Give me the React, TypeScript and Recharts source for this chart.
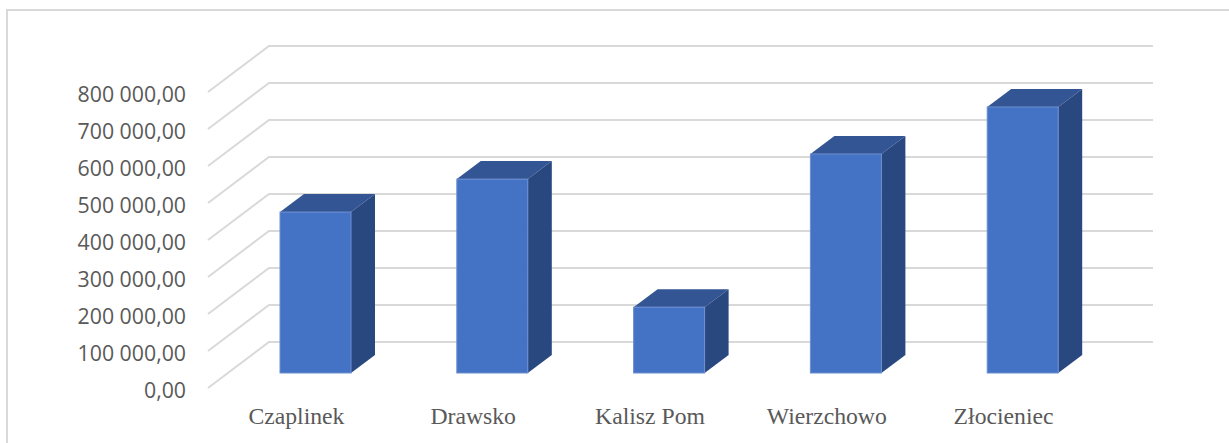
import React from "react";
import { BarChart, Bar, CartesianGrid, XAxis, YAxis } from "recharts";

const categories = ["Czaplinek", "Drawsko", "Kalisz Pom", "Wierzchowo", "Złocieniec"];
const values = [435000, 524000, 178000, 592000, 719000];
const yTicks = [0, 100000, 200000, 300000, 400000, 500000, 600000, 700000, 800000];
const yLabels = ["0,00", "100 000,00", "200 000,00", "300 000,00", "400 000,00", "500 000,00", "600 000,00", "700 000,00", "800 000,00"];

const data = categories.map((name, i) => ({ name, value: values[i] }));

// floor depth of the fake 3D box, axes sit on the front plane
const backX = 61;
const backY = -46;
const barShiftX = 19;
const barShiftY = -15;
const depthX = 24;
const depthY = -18;

const GridLine = (props: any) => {
  const { x1, x2, y1 } = props;
  return (
    <g stroke="#d9d9d9" strokeWidth={2} fill="none">
      <polyline points={`${x1},${y1} ${x1 + backX},${y1 + backY} ${x2 + backX},${y1 + backY}`} />
    </g>
  );
};

const Box3D = (props: any) => {
  const { x, y, width, height } = props;
  const left = x + barShiftX;
  const top = y + barShiftY;
  const right = left + width;
  const bottom = top + height;
  return (
    <g>
      <polygon
        points={`${left},${top} ${left + depthX},${top + depthY} ${right + depthX},${top + depthY} ${right},${top}`}
        fill="#335593"
      />
      <polygon
        points={`${right},${top} ${right + depthX},${top + depthY} ${right + depthX},${bottom + depthY} ${right},${bottom}`}
        fill="#2a4880"
      />
      <rect x={left} y={top} width={width} height={height} fill="#4472c4" stroke="#6d8fd0" strokeWidth={1} />
    </g>
  );
};

export default function App() {
  return (
    <div style={{ position: "absolute", left: 0, top: 0, width: 1229, height: 443, background: "#fff", overflow: "hidden" }}>
      <div
        style={{
          position: "absolute",
          left: 6,
          top: 9,
          width: 1300,
          height: 500,
          border: "2px solid #d9d9d9",
          boxSizing: "border-box",
        }}
      />
      <div style={{ position: "absolute", left: 0, top: 0 }}>
        <BarChart
          width={1229}
          height={443}
          data={data}
          margin={{ top: 92, right: 137, bottom: 0, left: 8 }}
          barCategoryGap="0%"
        >
          <CartesianGrid vertical={false} horizontal={(p: any) => <GridLine key={p.key} {...p} />} />
          <XAxis
            dataKey="name"
            axisLine={false}
            tickLine={false}
            height={55}
            interval={0}
            tickMargin={13}
            tick={{ fill: "#595959", fontSize: 23.7, fontFamily: "Liberation Serif" }}
          />
          <YAxis
            width={200}
            domain={[0, 800000]}
            ticks={yTicks}
            interval={0}
            axisLine={false}
            tickLine={false}
            tickMargin={16}
            tickFormatter={(v: number) => yLabels[yTicks.indexOf(v)]}
            tick={{ fill: "#595959", fontSize: 21.3, fontFamily: "Open Sans", dy: 2 }}
          />
          <Bar dataKey="value" barSize={71} shape={<Box3D />} isAnimationActive={false} />
        </BarChart>
      </div>
    </div>
  );
}
